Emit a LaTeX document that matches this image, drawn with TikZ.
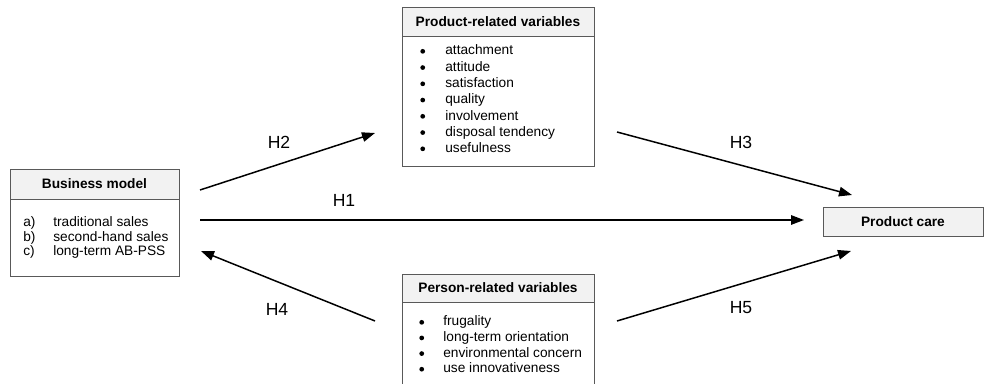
\documentclass[tikz,border=0pt]{standalone}
\usepackage{fontspec}
\setmainfont{Liberation Sans}
\usetikzlibrary{arrows.meta, positioning, calc}
\DeclareRobustCommand{\dotitem}{\tikz[baseline={(0pt,-2.1pt)}]\fill (0pt,0pt) circle (1.35pt);}

\begin{document}
\begin{tikzpicture}[
    x=0.02cm, y=-0.02cm,
    head/.style={draw=black!65, fill=black!5, line width=0.5pt, outer sep=0pt, minimum height=0.58cm, font=\fontsize{7.8}{9}\selectfont\bfseries},
    body/.style={draw=black!65, line width=0.5pt, outer sep=0pt},
    list/.style={inner sep=0pt, anchor=base west},
    hyp/.style={font=\fontsize{10}{12}\selectfont},
    arr/.style={-{Triangle[length=2.6mm, width=1.9mm]}, line width=0.85pt}
]
\clip (0,0) rectangle (984,384);

% boxes
\node[head, anchor=north west, minimum width=3.38cm, minimum height=0.6cm] (bmhead) at (10,169) {Business model};
\node[body, below=0pt of bmhead, minimum width=3.38cm, minimum height=1.54cm] (bmbody) {};
\node[list, font=\fontsize{7.8}{8.1}\selectfont] (bmlist) at (23,227)
  {\begin{tabular}[t]{@{}p{0.6cm}@{}l@{}}a) & traditional sales\\ b) & second-hand sales\\ c) & long-term AB-PSS\end{tabular}};

\node[head, anchor=north west, minimum width=3.84cm] (prodhead) at (402,7) {Product-related variables};
\node[body, below=0pt of prodhead, minimum width=3.84cm, minimum height=2.6cm] (prodbody) {};
\node[list, font=\fontsize{7.8}{9.25}\selectfont] (prodlist) at (420,55)
  {\begin{tabular}[t]{@{}p{0.5cm}@{}l@{}}\dotitem & attachment\\ \dotitem & attitude\\ \dotitem & satisfaction\\ \dotitem & quality\\ \dotitem & involvement\\ \dotitem & disposal tendency\\ \dotitem & usefulness\end{tabular}};

\node[head, anchor=north west, minimum width=3.84cm, minimum height=0.56cm] (perhead) at (402,274) {Person-related variables};
\node[body, below=0pt of perhead, minimum width=3.84cm, minimum height=2.2cm] (perbody) {};
\node[list, font=\fontsize{7.8}{8.9}\selectfont] (perlist) at (419,326)
  {\begin{tabular}[t]{@{}p{0.48cm}@{}l@{}}\dotitem & frugality\\ \dotitem & long-term orientation\\ \dotitem & environmental concern\\ \dotitem & use innovativeness\end{tabular}};

\node[head, anchor=north west, minimum width=3.2cm] (care) at (823,207) {Product care};

% hypotheses
\coordinate (h1s) at (200,220);
\coordinate (h1e) at (804,220);
\coordinate (h2s) at (200,190);
\coordinate (h2e) at (375,133);
\coordinate (h3s) at (617,132);
\coordinate (h3e) at (852,195);
\coordinate (h4s) at (375,321);
\coordinate (h4e) at (201,251);
\coordinate (h5s) at (617,321);
\coordinate (h5e) at (851,251);

\draw[arr] (h1s) -- (h1e);
\draw[arr] (h2s) -- (h2e);
\draw[arr] (h3s) -- (h3e);
\draw[arr] (h4s) -- (h4e);
\draw[arr] (h5s) -- (h5e);

\node[hyp] (h1) at (344,200) {H1};
\node[hyp] (h2) at (279,142) {H2};
\node[hyp] (h3) at (741,142) {H3};
\node[hyp] (h4) at (277,309) {H4};
\node[hyp] (h5) at (741,308) {H5};
\end{tikzpicture}
\end{document}
